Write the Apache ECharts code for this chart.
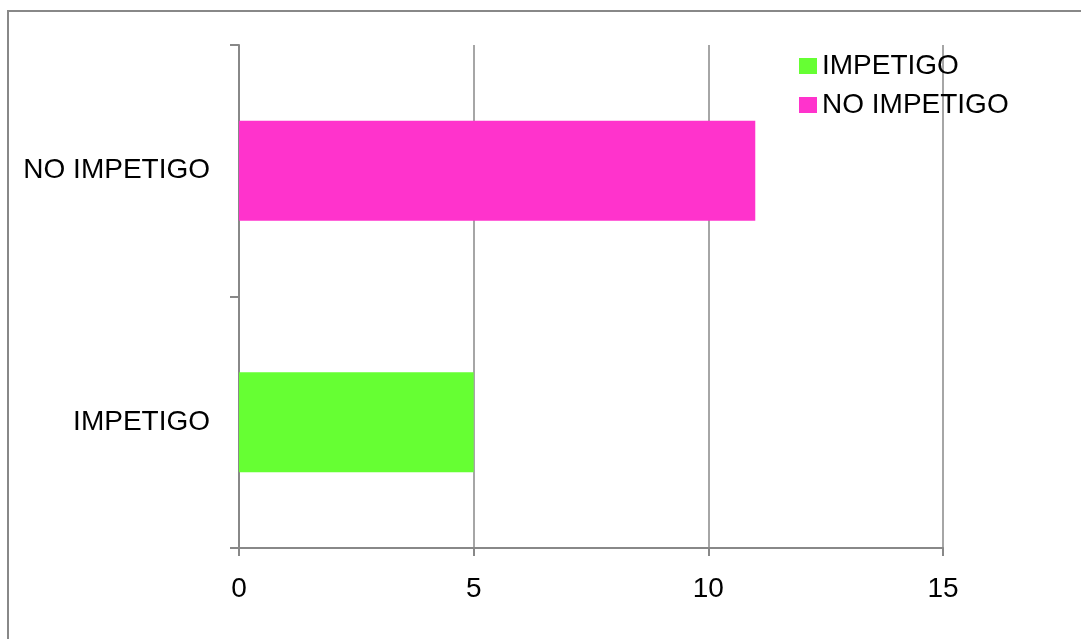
<!DOCTYPE html>
<html>
<head>
<meta charset="utf-8">
<script src="https://cdn.jsdelivr.net/npm/echarts@6/dist/echarts.min.js"></script>
<style>
  html, body { margin: 0; padding: 0; background: #fff; }
  #chart { width: 1081px; height: 639px; }
</style>
</head>
<body>
<div id="chart"></div>
<script>
// categories, bottom to top
const categories = ['IMPETIGO', 'NO IMPETIGO']
const impetigoValues = [5, '-']
const noImpetigoValues = ['-', 11]
const xTicks = [0, 5, 10, 15]

const chart = echarts.init(document.getElementById('chart'))
const labelFont = { color: '#000', fontSize: 28, fontFamily: 'Liberation Sans, Arial, sans-serif' }

const options = {
  animation: false,
  graphic: [
    {
      type: 'rect',
      shape: { x: 8, y: 11, width: 1100, height: 700 },
      style: { fill: 'none', stroke: '#888', lineWidth: 2 },
    },
  ],
  legend: {
    orient: 'vertical',
    left: 794,
    top: 47,
    itemWidth: 18,
    itemHeight: 16,
    itemGap: 11,
    icon: 'rect',
    textStyle: { ...labelFont, padding: [0, 0, 0, 0] },
    data: ['IMPETIGO', 'NO IMPETIGO'],
  },
  grid: { left: 239, right: 138, top: 45, bottom: 91, containLabel: false },
  xAxis: {
    type: 'value',
    min: xTicks[0],
    max: xTicks[xTicks.length - 1],
    interval: 5,
    axisLine: { show: true, lineStyle: { color: '#888', width: 2 } },
    axisTick: { show: true, length: 8, lineStyle: { color: '#888', width: 2 } },
    splitLine: { show: true, lineStyle: { color: '#888', width: 1.5 } },
    axisLabel: { ...labelFont, margin: 27 },
  },
  yAxis: {
    type: 'category',
    data: categories,
    axisLine: { show: true, lineStyle: { color: '#888', width: 2 } },
    axisTick: { show: true, length: 9, lineStyle: { color: '#888', width: 2 } },
    axisLabel: { ...labelFont, margin: 29 },
    splitLine: { show: false },
  },
  series: [
    {
      name: 'IMPETIGO',
      type: 'bar',
      stack: 'all',
      barWidth: 100,
      itemStyle: { color: '#66FF33' },
      data: impetigoValues,
    },
    {
      name: 'NO IMPETIGO',
      type: 'bar',
      stack: 'all',
      barWidth: 100,
      itemStyle: { color: '#FF33CC' },
      data: noImpetigoValues,
    },
  ],
}
chart.setOption(options)
</script>
</body>
</html>
